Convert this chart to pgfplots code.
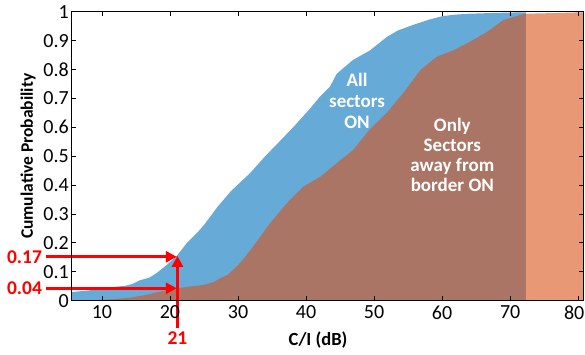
\documentclass[border=0pt]{standalone}
\usepackage{fontspec}
\setmainfont{Carlito}
\usepackage{pgfplots}
\pgfplotsset{compat=1.18}
\usetikzlibrary{arrows.meta}
\definecolor{mblue}{RGB}{0,114,189}
\definecolor{morange}{RGB}{217,83,25}
\definecolor{ared}{RGB}{255,0,0}
\begin{document}
\begin{tikzpicture}
\path[use as bounding box] (-71.3pt,-54.3pt) rectangle (513.7pt,300.7pt);
\begin{axis}[
  at={(0pt,0pt)}, anchor=south west,
  scale only axis, width=512pt, height=289pt,
  xmin=5.5, xmax=80.75, ymin=0, ymax=1,
  xtick={10,20,30,40,50,60,70},
  xticklabels={10,20,30,40,50,60,70},
  extra x ticks={80}, extra x tick labels={80},
  extra x tick style={xticklabel style={xshift=-4pt}},
  ytick={0,0.1,0.2,0.3,0.4,0.5,0.6,0.7,0.8,0.9,1},
  yticklabels={0,0.1,0.2,0.3,0.4,0.5,0.6,0.7,0.8,0.9,1},
  tick align=inside, major tick length=4.3pt,
  every tick/.style={black, line width=0.8pt},
  axis line style={black, line width=0.9pt},
  ticklabel style={font=\fontsize{20}{20}\selectfont},
  xticklabel style={yshift=-1.5pt},
  yticklabel style={xshift=1pt},
  axis on top, clip=false,
  xlabel={C/I (dB)}, ylabel={Cumulative Probability},
  every axis x label/.style={at={(axis description cs:0.482,-0.136)}, anchor=center, font=\fontsize{18.5}{18.5}\selectfont\bfseries},
  every axis y label/.style={at={(axis description cs:-0.0846,0.5)}, rotate=90, anchor=center, font=\fontsize{17.5}{17.5}\selectfont\bfseries},
]
\addplot[draw=none, fill=mblue, fill opacity=0.6] coordinates {
(5.5,0.030) (7,0.033) (9,0.038) (10,0.042) (12,0.048) (13.5,0.052) (14.5,0.058)
(15.5,0.070) (17,0.080) (18,0.095) (19.5,0.123) (21,0.155) (22.5,0.200) (24,0.235)
(25,0.262) (27,0.325) (29,0.380) (31.8,0.442) (34,0.500) (36.6,0.563) (38.5,0.610)
(40.6,0.665) (42,0.705) (43.5,0.740) (44.5,0.785) (46.9,0.833) (49.4,0.866)
(51.9,0.913) (53.5,0.935) (55.7,0.954) (58,0.972) (60.1,0.985) (62,0.990)
(64.1,0.993) (68,0.996) (72.3,0.998)
} \closedcycle;
\addplot[draw=none, fill=morange, fill opacity=0.6] coordinates {
(5.5,0.000) (8,0.001) (10,0.003) (12,0.006) (14,0.010) (16,0.018) (17,0.023)
(18.5,0.031) (21,0.043) (23,0.049) (25,0.055) (26.5,0.065) (27.4,0.078) (28.5,0.090)
(29.8,0.118) (30.7,0.141) (32.2,0.187) (34.7,0.268) (37.2,0.338) (39.6,0.395)
(42.1,0.429) (44.5,0.476) (46.9,0.521) (49.4,0.594) (51.9,0.651) (54.3,0.719)
(56.8,0.798) (59.2,0.844) (61.6,0.866) (64.1,0.896) (66.6,0.930) (69.0,0.971)
(71.5,0.989) (72.3,0.993) (76,0.995) (80.75,0.998)
} \closedcycle;
\node[text=white, font=\fontsize{19}{21}\selectfont\bfseries, align=center] at (axis cs:47.5,0.691) {All\\sectors\\ON};
\node[text=white, font=\fontsize{19}{20}\selectfont\bfseries, align=center] at (axis cs:61.5,0.504) {Only\\Sectors\\away from\\border ON};
\draw[ared, line width=3pt, -{Triangle[length=11pt,width=11pt]}] (axis cs:1.78,0.152) -- (axis cs:21.0,0.152);
\draw[ared, line width=3pt, -{Triangle[length=11pt,width=11pt]}] (axis cs:1.78,0.043) -- (axis cs:21.0,0.043);
\draw[ared, line width=3pt, -{Triangle[length=11pt,width=11pt]}] (axis cs:21.1,-0.094) -- (axis cs:21.1,0.155);
\node[text=ared, font=\fontsize{19.5}{19.5}\selectfont\bfseries] at (axis cs:-1.38,0.152) {0.17};
\node[text=ared, font=\fontsize{19.5}{19.5}\selectfont\bfseries] at (axis cs:-1.38,0.043) {0.04};
\node[text=ared, font=\fontsize{19.5}{19.5}\selectfont\bfseries] at (axis cs:21.1,-0.129) {21};
\end{axis}
\end{tikzpicture}
\end{document}
